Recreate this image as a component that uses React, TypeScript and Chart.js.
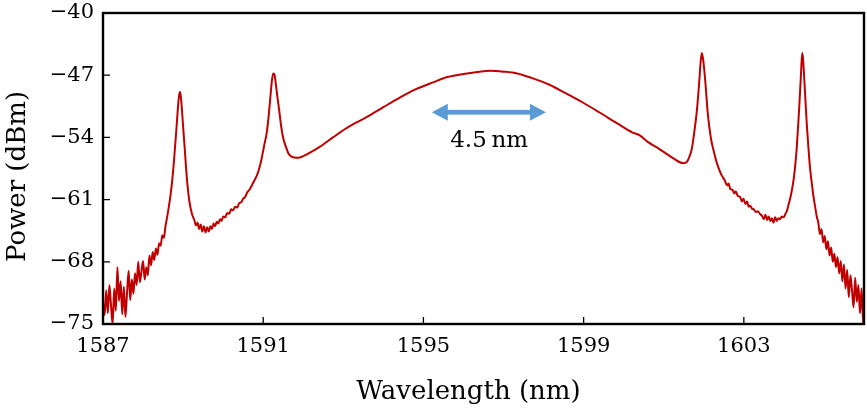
import React, { useEffect, useRef } from "react";
import { Chart, registerables } from "chart.js";

Chart.register(...registerables);

// ---- data ----
const wavelengthNm: number[] = [
  1587.00, 1587.04, 1587.08, 1587.12, 1587.16, 1587.20, 1587.24, 1587.28, 1587.32, 1587.36,
  1587.40, 1587.44, 1587.48, 1587.52, 1587.56, 1587.60, 1587.64, 1587.68, 1587.72, 1587.76,
  1587.80, 1587.84, 1587.88, 1587.92, 1587.96, 1588.00, 1588.04, 1588.08, 1588.12, 1588.16,
  1588.20, 1588.24, 1588.28, 1588.32, 1588.36, 1588.40, 1588.44, 1588.48, 1588.52, 1588.56,
  1588.60, 1588.64, 1588.68, 1588.72, 1588.76, 1588.80, 1588.84, 1588.87, 1588.90, 1588.92,
  1588.94, 1588.97, 1589.00, 1589.04, 1589.07, 1589.11, 1589.16, 1589.22, 1589.28, 1589.32,
  1589.36, 1589.40, 1589.44, 1589.48, 1589.52, 1589.56, 1589.60, 1589.64, 1589.68, 1589.72,
  1589.76, 1589.80, 1589.84, 1589.88, 1589.92, 1589.96, 1590.00, 1590.05, 1590.10, 1590.15,
  1590.20, 1590.25, 1590.30, 1590.35, 1590.40, 1590.45, 1590.50, 1590.55, 1590.60, 1590.67,
  1590.75, 1590.84, 1590.90, 1590.96, 1591.02, 1591.09, 1591.14, 1591.18, 1591.22, 1591.25,
  1591.28, 1591.31, 1591.35, 1591.40, 1591.45, 1591.50, 1591.57, 1591.63, 1591.72, 1591.84,
  1591.95, 1592.09, 1592.25, 1592.40, 1592.74, 1593.10, 1593.59, 1594.00, 1594.42, 1594.80,
  1595.24, 1595.60, 1596.09, 1596.40, 1596.66, 1597.00, 1597.34, 1597.70, 1598.16, 1598.50,
  1598.99, 1599.40, 1599.83, 1600.20, 1600.41, 1600.60, 1600.82, 1601.05, 1601.24, 1601.40,
  1601.49, 1601.57, 1601.63, 1601.70, 1601.76, 1601.82, 1601.86, 1601.89, 1601.92, 1601.95,
  1601.98, 1602.01, 1602.05, 1602.09, 1602.14, 1602.19, 1602.24, 1602.32, 1602.40, 1602.45,
  1602.52, 1602.58, 1602.62, 1602.66, 1602.72, 1602.76, 1602.80, 1602.85, 1602.91, 1602.95,
  1602.99, 1603.04, 1603.08, 1603.12, 1603.16, 1603.20, 1603.25, 1603.30, 1603.35, 1603.40,
  1603.45, 1603.50, 1603.54, 1603.58, 1603.62, 1603.66, 1603.70, 1603.74, 1603.78, 1603.82,
  1603.86, 1603.90, 1603.95, 1603.99, 1604.04, 1604.08, 1604.12, 1604.15, 1604.18, 1604.22,
  1604.25, 1604.28, 1604.32, 1604.36, 1604.39, 1604.42, 1604.44, 1604.46, 1604.48, 1604.51,
  1604.54, 1604.57, 1604.61, 1604.65, 1604.70, 1604.74, 1604.78, 1604.82, 1604.86, 1604.90,
  1604.94, 1604.98, 1605.02, 1605.06, 1605.10, 1605.14, 1605.18, 1605.22, 1605.26, 1605.30,
  1605.34, 1605.38, 1605.42, 1605.46, 1605.50, 1605.54, 1605.58, 1605.62, 1605.66, 1605.70,
  1605.74, 1605.78, 1605.82, 1605.86, 1605.90, 1605.94, 1605.98, 1606.00,
];

const powerDbm: number[] = [
  -72.5, -74.0, -71.2, -73.8, -70.6, -72.9, -75.0, -71.0, -73.5, -68.6,
  -72.4, -70.2, -73.9, -70.8, -74.2, -71.5, -69.0, -72.3, -70.0, -71.6,
  -69.3, -70.6, -68.0, -70.3, -69.1, -67.9, -70.0, -68.6, -69.5, -67.3,
  -68.4, -66.9, -67.8, -66.5, -67.2, -65.9, -66.2, -65.0, -65.3, -64.0,
  -63.0, -61.9, -60.7, -59.2, -57.3, -55.0, -52.6, -50.7, -49.3, -48.9,
  -49.3, -50.8, -52.8, -55.2, -57.2, -59.4, -61.3, -62.6, -63.3, -63.9,
  -63.6, -64.3, -63.8, -64.6, -64.0, -64.7, -64.1, -64.6, -64.0, -64.3,
  -63.7, -64.0, -63.5, -63.7, -63.2, -63.4, -62.9, -63.0, -62.5, -62.6,
  -62.1, -62.2, -61.8, -61.9, -61.4, -61.3, -60.9, -60.7, -60.2, -59.8,
  -59.1, -58.3, -57.5, -56.4, -55.0, -53.4, -51.4, -49.4, -47.5, -46.8,
  -46.9, -47.8, -49.3, -51.0, -52.8, -54.1, -55.1, -55.8, -56.2, -56.3,
  -56.2, -55.9, -55.5, -55.1, -54.0, -52.9, -51.7, -50.6, -49.5, -48.6,
  -47.8, -47.2, -46.8, -46.6, -46.5, -46.6, -46.8, -47.3, -48.1, -48.9,
  -50.1, -51.2, -52.4, -53.4, -53.8, -54.5, -55.1, -55.8, -56.35, -56.8,
  -56.9, -56.8, -56.3, -55.3, -53.5, -51.3, -49.3, -47.5, -45.6, -44.5,
  -45.1, -46.3, -48.4, -50.8, -52.9, -54.4, -55.4, -56.8, -57.8, -58.3,
  -58.8, -59.4, -59.2, -59.8, -59.9, -60.3, -60.1, -60.6, -60.7, -61.2,
  -60.9, -61.5, -61.2, -61.8, -61.7, -62.0, -62.1, -62.4, -62.3, -62.6,
  -62.8, -63.2, -62.7, -63.3, -62.9, -63.4, -63.1, -63.6, -63.0, -63.4,
  -63.1, -63.2, -62.9, -63.0, -62.6, -62.2, -61.5, -61.0, -60.4, -59.4,
  -58.5, -57.3, -55.2, -52.4, -50.0, -47.5, -45.6, -44.5, -45.3, -47.5,
  -50.0, -52.4, -55.0, -57.3, -59.3, -60.7, -61.8, -62.9, -63.6, -64.9,
  -64.3, -65.8, -65.1, -66.6, -65.7, -67.3, -66.4, -68.0, -67.1, -68.6,
  -67.5, -69.3, -67.9, -70.2, -68.3, -71.0, -68.9, -72.0, -69.5, -71.2,
  -73.1, -69.8, -72.5, -70.6, -73.8, -71.0, -75.0, -72.0,
];

const xTickValues = [1587, 1591, 1595, 1599, 1603];
const yTickValues = [-75, -68, -61, -54, -47, -40];
const xRange = [1587, 1606];
const yRange = [-75, -40];
const xTitle = "Wavelength (nm)";
const yTitle = "Power (dBm)";

// annotation: double arrow marking the 4.5 nm span
const spanArrowNm = [1595.21, 1598.06];
const spanArrowDbm = -51.17;
const spanLabel = "4.5\u2009nm";
const spanLabelNm = 1596.64;
const spanLabelDbm = -55.08;

const FONT = '"DejaVu Serif", "Liberation Serif", serif';
const LINE_COLOR = "rgb(192,0,0)";
const ARROW_COLOR = "rgb(91,155,213)";

const decorPlugin = {
  id: "decor",
  afterDatasetsDraw(chart: any) {
    const { ctx, chartArea: a, scales } = chart;
    const xs = scales.x;
    const ys = scales.y;
    ctx.save();

    // inward ticks (left and bottom only)
    ctx.strokeStyle = "#000";
    ctx.lineWidth = 1.3;
    ctx.beginPath();
    xTickValues.forEach((v) => {
      const px = xs.getPixelForValue(v);
      ctx.moveTo(px, a.bottom);
      ctx.lineTo(px, a.bottom - 7);
    });
    yTickValues.forEach((v) => {
      const py = ys.getPixelForValue(v);
      ctx.moveTo(a.left, py);
      ctx.lineTo(a.left + 7, py);
    });
    ctx.stroke();

    // frame
    ctx.lineWidth = 2.4;
    ctx.strokeRect(a.left, a.top, a.right - a.left, a.bottom - a.top);

    // double arrow
    const x1 = xs.getPixelForValue(spanArrowNm[0]);
    const x2 = xs.getPixelForValue(spanArrowNm[1]);
    const ay = ys.getPixelForValue(spanArrowDbm);
    const headL = 16;
    const headH = 8.5;
    ctx.fillStyle = ARROW_COLOR;
    ctx.fillRect(x1 + headL - 1, ay - 2.4, x2 - x1 - 2 * headL + 2, 4.8);
    ctx.beginPath();
    ctx.moveTo(x1, ay);
    ctx.lineTo(x1 + headL, ay - headH);
    ctx.lineTo(x1 + headL, ay + headH);
    ctx.closePath();
    ctx.fill();
    ctx.beginPath();
    ctx.moveTo(x2, ay);
    ctx.lineTo(x2 - headL, ay - headH);
    ctx.lineTo(x2 - headL, ay + headH);
    ctx.closePath();
    ctx.fill();

    // span label
    ctx.fillStyle = "#000";
    ctx.font = `23px ${FONT}`;
    ctx.textAlign = "center";
    ctx.textBaseline = "alphabetic";
    ctx.fillText(spanLabel, xs.getPixelForValue(spanLabelNm), ys.getPixelForValue(spanLabelDbm));

    // axis titles
    ctx.font = `26px ${FONT}`;
    ctx.fillText(xTitle, (a.left + a.right) / 2 - 15, a.bottom + 75);
    ctx.translate(18, (a.top + a.bottom) / 2 + 8);
    ctx.rotate(-Math.PI / 2);
    ctx.textBaseline = "middle";
    ctx.fillText(yTitle, 0, 0);

    ctx.restore();
  },
};

export default function App() {
  const canvasRef = useRef<HTMLCanvasElement | null>(null);

  useEffect(() => {
    if (!canvasRef.current) return;
    const points = wavelengthNm.map((x, i) => ({ x, y: powerDbm[i] }));
    const chart = new Chart(canvasRef.current, {
      type: "line",
      data: {
        datasets: [
          {
            data: points,
            borderColor: LINE_COLOR,
            borderWidth: 2,
            pointRadius: 0,
            cubicInterpolationMode: "monotone",
            fill: false,
          },
        ],
      },
      options: {
        animation: false,
        responsive: true,
        maintainAspectRatio: false,
        layout: { padding: { top: 13, right: 3, left: 0, bottom: 0 } },
        plugins: {
          legend: { display: false },
          tooltip: { enabled: false },
        },
        scales: {
          x: {
            type: "linear",
            min: xRange[0],
            max: xRange[1],
            grid: { display: false, drawTicks: false },
            border: { display: false },
            afterBuildTicks: (scale: any) => {
              scale.ticks = xTickValues.map((value) => ({ value }));
            },
            afterFit: (scale: any) => {
              scale.height = 85;
              scale.paddingLeft = 0;
              scale.paddingRight = 0;
            },
            ticks: {
              color: "#000",
              padding: 10,
              maxRotation: 0,
              font: { family: FONT, size: 21 },
              callback: (v: any) => String(v),
            },
          },
          y: {
            type: "linear",
            min: yRange[0],
            max: yRange[1],
            grid: { display: false, drawTicks: false },
            border: { display: false },
            afterBuildTicks: (scale: any) => {
              scale.ticks = yTickValues.map((value) => ({ value }));
            },
            afterFit: (scale: any) => {
              scale.width = 103;
              scale.paddingTop = 0;
              scale.paddingBottom = 0;
            },
            ticks: {
              color: "#000",
              padding: 9,
              font: { family: FONT, size: 21 },
              callback: (v: any) => (v < 0 ? "\u2212" + Math.abs(v) : String(v)),
            },
          },
        },
      },
      plugins: [decorPlugin],
    });
    return () => chart.destroy();
  }, []);

  return (
    <div style={{ position: "absolute", left: 0, top: 0, width: 867, height: 409, background: "#fff" }}>
      <canvas ref={canvasRef} />
    </div>
  );
}
